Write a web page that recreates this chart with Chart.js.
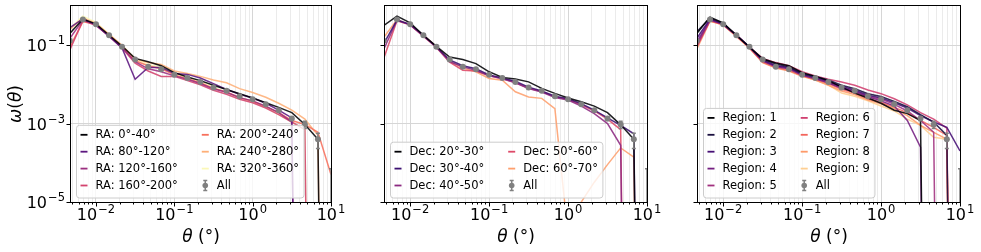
<!DOCTYPE html>
<html>
<head>
<meta charset="utf-8">
<script src="https://cdn.jsdelivr.net/npm/chart.js@4.4.0/dist/chart.umd.min.js"></script>
<style>
html, body { margin: 0; padding: 0; background: #fff; }
#wrap { position: relative; width: 981px; height: 252px; }
#wrap canvas { position: absolute; left: 0; top: 0; }
</style>
</head>
<body>
<div id="wrap">
  <canvas id="c1" width="981" height="252"></canvas>
  <canvas id="c2" width="981" height="252"></canvas>
  <canvas id="c3" width="981" height="252"></canvas>
</div>
<script>
// angular bins (degrees), 6 per decade
const thetaDeg = [0.00464, 0.00681, 0.01, 0.0147, 0.0215, 0.0316, 0.0464, 0.0681, 0.1, 0.147, 0.215,
                  0.316, 0.464, 0.681, 1.0, 1.47, 2.15, 3.16, 4.64, 6.81, 10.0];

// full sample, with error bars (0 = non-positive value)
const allW   = [0.13, 0.45, 0.34, 0.18, 0.091, 0.043, 0.028, 0.0245, 0.0175, 0.0145, 0.0115,
                0.0083, 0.0069, 0.005, 0.0042, 0.0031, 0.0022, 0.00135, 0.00095, 0.0004, 0];
const allErr = [0.004, 0.01, 0.006, 0.003, 0.0015, 0.0008, 0.0005, 0.0004, 0.0003, 0.0002, 0.00015,
                0.00012, 0.0001, 0.0001, 0.0001, 0.0001, 0.0001, 0.00015, 0.0002, 0.00017, 0.00007];

// panel 1: RA slices
const raLabels = ["RA: 0°-40°", "RA: 80°-120°", "RA: 120°-160°", "RA: 160°-200°",
                  "RA: 200°-240°", "RA: 240°-280°", "RA: 320°-360°"];
const ra0_40    = [0.2, 0.46, 0.35, 0.18, 0.095, 0.046, 0.038, 0.03, 0.02, 0.0155, 0.0125, 0.0095, 0.0074, 0.0058, 0.0045, 0.0034, 0.0026, 0.0019, 0.00095, 0.0004, 0];
const ra80_120  = [0.28, 0.47, 0.33, 0.17, 0.085, 0.0135, 0.027, 0.027, 0.019, 0.018, 0.0145, 0.0105, 0.0074, 0.0056, 0.0045, 0.0033, 0.0022, 0.0014, 0, 0, 0];
const ra120_160 = [0.15, 0.44, 0.33, 0.17, 0.088, 0.038, 0.025, 0.021, 0.0165, 0.0135, 0.0105, 0.0077, 0.0063, 0.0046, 0.0038, 0.0028, 0.0019, 0.0011, 0, 0, 0];
const ra160_200 = [0.075, 0.43, 0.32, 0.17, 0.085, 0.035, 0.022, 0.016, 0.016, 0.0125, 0.0098, 0.0071, 0.0056, 0.0042, 0.0034, 0.0025, 0.0017, 0.0011, 0.0007, 0, 0];
const ra200_240 = [0.09, 0.4, 0.33, 0.18, 0.09, 0.04, 0.03, 0.025, 0.0175, 0.014, 0.011, 0.0079, 0.0064, 0.0046, 0.0037, 0.0027, 0.0019, 0.0012, 0.00095, 0.0006, 0.00005];
const ra240_280 = [0.25, 0.5, 0.36, 0.19, 0.1, 0.045, 0.036, 0.032, 0.022, 0.019, 0.016, 0.013, 0.011, 0.0078, 0.0062, 0.0047, 0.0033, 0.0022, 0.0013, 0.0005, 0];
const ra320_360 = [0.27, 0.55, 0.38, 0.19, 0.095, 0.045, 0.032, 0.028, 0.019, 0.015, 0.012, 0.0085, 0.0062, 0.0045, 0.0035, 0.0026, 0.0017, 0.0011, 0.0007, 0, 0];

// panel 2: Dec slices
const decLabels = ["Dec: 20°-30°", "Dec: 30°-40°", "Dec: 40°-50°", "Dec: 50°-60°", "Dec: 60°-70°"];
const dec20_30 = [0.32, 0.55, 0.37, 0.18, 0.093, 0.05, 0.043, 0.034, 0.021, 0.0151, 0.0138, 0.0116, 0.0079, 0.0059, 0.0045, 0.0036, 0.0028, 0.0019, 0.00093, 0.0004, 0];
const dec30_40 = [0.11, 0.44, 0.34, 0.18, 0.09, 0.042, 0.03, 0.025, 0.0175, 0.0145, 0.012, 0.0085, 0.0068, 0.005, 0.0043, 0.0032, 0.0022, 0.0014, 0.0009, 0.00055, 0];
const dec40_50 = [0.08, 0.43, 0.33, 0.17, 0.09, 0.038, 0.028, 0.023, 0.0165, 0.014, 0.011, 0.0078, 0.0064, 0.0046, 0.004, 0.0028, 0.0018, 0.001, 0.00028, 0, 0];
const dec50_60 = [0.047, 0.42, 0.33, 0.17, 0.088, 0.037, 0.023, 0.022, 0.0168, 0.0142, 0.0112, 0.008, 0.0066, 0.0048, 0.0041, 0.003, 0.0021, 0.0013, 0.0007, 0, 0];
const dec60_70 = [0.16, 0.45, 0.33, 0.18, 0.092, 0.04, 0.026, 0.021, 0.0142, 0.0128, 0.0065, 0.0048, 0.0044, 0.0024, 0.0000015, 0.00001, 0.000032, 0.00009, 0.00024, 0.00014, 0];

// panel 3: sky regions
const regionLabels = ["Region: 1", "Region: 2", "Region: 3", "Region: 4", "Region: 5",
                      "Region: 6", "Region: 7", "Region: 8", "Region: 9"];
const reg1 = [0.2, 0.52, 0.37, 0.18, 0.09, 0.045, 0.035, 0.03, 0.02, 0.016, 0.0125, 0.0085, 0.006, 0.0045, 0.0033, 0.0022, 0.0018, 0.0012, 0, 0, 0];
const reg2 = [0.22, 0.5, 0.36, 0.18, 0.09, 0.044, 0.033, 0.028, 0.019, 0.016, 0.013, 0.0095, 0.0078, 0.0058, 0.0049, 0.0037, 0.0027, 0.0017, 0.0011, 0.0005, 0];
const reg3 = [0.15, 0.47, 0.35, 0.18, 0.09, 0.042, 0.03, 0.027, 0.018, 0.015, 0.012, 0.0088, 0.0072, 0.0053, 0.0045, 0.0034, 0.0025, 0.0016, 0.0011, 0.0008, 0.0002];
const reg4 = [0.12, 0.45, 0.34, 0.18, 0.09, 0.04, 0.028, 0.025, 0.017, 0.014, 0.011, 0.008, 0.0065, 0.0048, 0.0038, 0.0028, 0.0012, 0.00025, 0, 0, 0];
const reg5 = [0.1, 0.44, 0.34, 0.18, 0.09, 0.04, 0.03, 0.026, 0.018, 0.0145, 0.0115, 0.0082, 0.0068, 0.0049, 0.0042, 0.0031, 0.0021, 0.0012, 0.0006, 0, 0];
const reg6 = [0.09, 0.43, 0.34, 0.18, 0.09, 0.046, 0.036, 0.03, 0.021, 0.0165, 0.0135, 0.0115, 0.0095, 0.0072, 0.0058, 0.0043, 0.003, 0.0019, 0.0013, 0.00077, 0];
const reg7 = [0.1, 0.42, 0.33, 0.17, 0.085, 0.037, 0.027, 0.023, 0.0165, 0.0135, 0.0105, 0.0075, 0.006, 0.0043, 0.0035, 0.0026, 0.0019, 0.0012, 0.0008, 0.0005, 0];
const reg8 = [0.08, 0.41, 0.33, 0.17, 0.085, 0.036, 0.026, 0.022, 0.016, 0.013, 0.0095, 0.0068, 0.0055, 0.004, 0.0032, 0.0024, 0.0016, 0.0009, 0.0006, 0.0004, 0];
const reg9 = [0.09, 0.42, 0.33, 0.17, 0.085, 0.038, 0.028, 0.024, 0.0165, 0.013, 0.0098, 0.006, 0.005, 0.0038, 0.0028, 0.0021, 0.0013, 0.0009, 0.00045, 0.0004, 0];

// axes
const xMin = 0.0048, xMax = 10;
const yMin = 1e-5, yMax = 1;
const xLabelValues = [0.01, 0.1, 1, 10];
const xLabelExps = ["\u22122", "\u22121", "0", "1"];
const yTickValues = [1e-5, 1e-3, 1e-1];
const yLabelExps = ["\u22125", "\u22123", "\u22121"];

// magma samples
const magma1 = ["#000004", "#5c167f", "#9b2e7f", "#d3436e", "#f7705c", "#feaf77", "#fbf8b8"];
const magma2 = ["#000004", "#3b0f70", "#8c2981", "#de4968", "#fe9f6d"];
const magma3 = ["#000004", "#190f3e", "#460f75", "#741f81", "#a1307e", "#d03f70", "#f3655c", "#fe9a69", "#fecf92"];

const GREY = "#808080";
const FONT = '"DejaVu Sans"';
const LEGEND_FONT = "11.5px " + FONT;

const panels = [
    {id: "c1", left: 71, right: 331, showY: true, labels: raLabels, colors: magma1,
     values: [ra0_40, ra80_120, ra120_160, ra160_200, ra200_240, ra240_280, ra320_360]},
    {id: "c2", left: 385, right: 647, showY: false, labels: decLabels, colors: magma2,
     values: [dec20_30, dec30_40, dec40_50, dec50_60, dec60_70]},
    {id: "c3", left: 698, right: 960, showY: false, labels: regionLabels, colors: magma3,
     values: [reg1, reg2, reg3, reg4, reg5, reg6, reg7, reg8, reg9]}
];

// matplotlib clips non-positive values on a log axis, the line drops straight down
const clipLog = v => v > 0 ? v : 1e-30;
const isDecade = v => Math.abs(Math.log10(v) - Math.round(Math.log10(v))) < 1e-6;

const xTickValues = [];
for (let d = -3; d <= 1; d++) {
    for (let m = 1; m <= 9; m++) {
        const v = m * Math.pow(10, d);
        if (v >= xMin * 0.999 && v <= xMax * 1.001) xTickValues.push(v);
    }
}

function drawPow(ctx, x, y, exp, align) {
    ctx.font = "16px " + FONT;
    const bw = ctx.measureText("10").width;
    ctx.font = "11.5px " + FONT;
    const ew = ctx.measureText(exp).width;
    const total = bw + ew + 1;
    const x0 = align === "right" ? x - total : x - total / 2;
    ctx.textAlign = "left";
    ctx.textBaseline = "alphabetic";
    ctx.fillStyle = "#000";
    ctx.font = "16px " + FONT;
    ctx.fillText("10", x0, y);
    ctx.font = "11.5px " + FONT;
    ctx.fillText(exp, x0 + bw + 1, y - 7);
}

function drawErrSymbol(ctx, x, yTop, yBot, cap) {
    ctx.beginPath();
    ctx.moveTo(x, yTop); ctx.lineTo(x, yBot);
    ctx.moveTo(x - cap, yTop); ctx.lineTo(x + cap, yTop);
    ctx.moveTo(x - cap, yBot); ctx.lineTo(x + cap, yBot);
    ctx.stroke();
}

function makeDeco(panel) {
    return {
        id: "deco" + panel.id,
        afterDatasetsDraw(chart) {
            const ctx = chart.ctx, a = chart.chartArea;
            const xs = chart.scales.x, ys = chart.scales.y;
            ctx.save();
            ctx.beginPath();
            ctx.rect(a.left, a.top, a.right - a.left, a.bottom - a.top);
            ctx.clip();
            ctx.strokeStyle = GREY;
            ctx.lineWidth = 1.5;
            allW.forEach((v, i) => {
                const px = xs.getPixelForValue(thetaDeg[i]);
                const hi = v + allErr[i], lo = v - allErr[i];
                const yTop = ys.getPixelForValue(hi);
                if (lo > 0) {
                    drawErrSymbol(ctx, px, yTop, ys.getPixelForValue(lo), 2);
                } else {
                    ctx.beginPath();
                    ctx.moveTo(px, yTop); ctx.lineTo(px, a.bottom + 5);
                    ctx.moveTo(px - 2, yTop); ctx.lineTo(px + 2, yTop);
                    ctx.stroke();
                }
            });
            ctx.restore();
        },
        afterDraw(chart) {
            const ctx = chart.ctx, a = chart.chartArea;
            const xs = chart.scales.x, ys = chart.scales.y;
            ctx.save();

            // frame
            ctx.strokeStyle = "#000";
            ctx.lineWidth = 1;
            ctx.strokeRect(Math.round(a.left) - 0.5, Math.round(a.top) - 0.5,
                           Math.round(a.right - a.left) + 1, Math.round(a.bottom - a.top) + 1);

            // tick marks
            ctx.beginPath();
            xTickValues.forEach(v => {
                const px = Math.round(xs.getPixelForValue(v)) + 0.5;
                const len = isDecade(v) ? 4.5 : 2.5;
                ctx.moveTo(px, a.bottom);
                ctx.lineTo(px, a.bottom + len);
            });
            yTickValues.forEach(v => {
                const py = Math.round(ys.getPixelForValue(v)) + 0.5;
                ctx.moveTo(a.left, py);
                ctx.lineTo(a.left - 4.5, py);
            });
            ctx.stroke();

            // tick labels
            xLabelValues.forEach((v, i) => drawPow(ctx, xs.getPixelForValue(v), a.bottom + 18, xLabelExps[i], "center"));
            if (panel.showY) {
                yTickValues.forEach((v, i) => drawPow(ctx, a.left - 6, ys.getPixelForValue(v) + 6, yLabelExps[i], "right"));
            }

            // axis titles
            ctx.fillStyle = "#000";
            ctx.textBaseline = "alphabetic";
            ctx.textAlign = "left";
            const cx = (a.left + a.right) / 2;
            ctx.font = "italic 17px " + FONT;
            const tw = ctx.measureText("\u03b8").width;
            ctx.font = "17px " + FONT;
            const rw = ctx.measureText(" (\u00b0)").width;
            const tx = cx - (tw + rw) / 2;
            ctx.font = "italic 17px " + FONT;
            ctx.fillText("\u03b8", tx, 242);
            ctx.font = "17px " + FONT;
            ctx.fillText(" (\u00b0)", tx + tw, 242);

            if (panel.showY) {
                ctx.save();
                ctx.translate(21, (a.top + a.bottom) / 2);
                ctx.rotate(-Math.PI / 2);
                const parts = [["\u03c9", true], ["(", false], ["\u03b8", true], [")", false]];
                let total = 0;
                parts.forEach(p => {
                    ctx.font = (p[1] ? "italic " : "") + "17px " + FONT;
                    total += ctx.measureText(p[0]).width;
                });
                let px = -total / 2;
                parts.forEach(p => {
                    ctx.font = (p[1] ? "italic " : "") + "17px " + FONT;
                    ctx.fillText(p[0], px, 0);
                    px += ctx.measureText(p[0]).width;
                });
                ctx.restore();
            }

            // legend, two columns filled column-first
            const items = panel.labels.map((l, i) => ({label: l, color: panel.colors[i], err: false}))
                .concat([{label: "All", color: GREY, err: true}]);
            ctx.font = LEGEND_FONT;
            const nrows = Math.ceil(items.length / 2);
            const col1 = items.slice(0, nrows), col2 = items.slice(nrows);
            const w1 = Math.max(...col1.map(it => ctx.measureText(it.label).width));
            const w2 = Math.max(...col2.map(it => ctx.measureText(it.label).width));
            const pitch = 16.9;
            const bx = a.left + 5.5;
            const bb = a.bottom - 4;
            const lastCy = bb - 12.5;
            const firstCy = lastCy - (nrows - 1) * pitch;
            const bt = firstCy - 9.5;
            const col2x = bx + 19 + w1 + 20;
            const br = col2x + 19 + w2 + 5;

            ctx.beginPath();
            ctx.roundRect(bx, bt, br - bx, bb - bt, 3);
            ctx.fillStyle = "rgba(255,255,255,0.8)";
            ctx.fill();
            ctx.strokeStyle = "#cccccc";
            ctx.lineWidth = 1;
            ctx.stroke();

            items.forEach((it, i) => {
                const col = Math.floor(i / nrows), row = i % nrows;
                const x0 = col === 0 ? bx : col2x;
                const cy = firstCy + row * pitch;
                if (it.err) {
                    ctx.strokeStyle = GREY;
                    ctx.lineWidth = 1.5;
                    drawErrSymbol(ctx, x0 + 7.5, cy - 5, cy + 5, 2);
                    ctx.fillStyle = GREY;
                    ctx.beginPath();
                    ctx.arc(x0 + 7.5, cy, 2.8, 0, Math.PI * 2);
                    ctx.fill();
                } else {
                    ctx.strokeStyle = it.color;
                    ctx.lineWidth = 1.8;
                    ctx.beginPath();
                    ctx.moveTo(x0 + 4, cy);
                    ctx.lineTo(x0 + 11, cy);
                    ctx.stroke();
                }
                ctx.fillStyle = "#000";
                ctx.font = LEGEND_FONT;
                ctx.textAlign = "left";
                ctx.textBaseline = "middle";
                ctx.fillText(it.label, x0 + 19, cy + 0.5);
            });

            ctx.restore();
        }
    };
}

panels.forEach(panel => {
    const datasets = panel.values.map((vals, i) => ({
        label: panel.labels[i],
        data: thetaDeg.map((t, k) => ({x: t, y: clipLog(vals[k])})),
        borderColor: panel.colors[i] + "e0",
        backgroundColor: panel.colors[i],
        borderWidth: 1.5,
        pointRadius: 0,
        fill: false,
        tension: 0,
        order: 1
    }));
    datasets.push({
        label: "All",
        data: thetaDeg.map((t, k) => ({x: t, y: clipLog(allW[k])})),
        showLine: false,
        pointRadius: 3,
        pointBackgroundColor: GREY,
        pointBorderWidth: 0,
        order: 0
    });

    const yAxisWidth = panel.showY ? panel.left : 10;

    new Chart(document.getElementById(panel.id), {
        type: "line",
        data: {datasets},
        options: {
            responsive: false,
            animation: false,
            devicePixelRatio: 1,
            layout: {padding: {left: panel.left - yAxisWidth, right: 981 - panel.right, top: 6, bottom: 0}},
            plugins: {legend: {display: false}, tooltip: {enabled: false}},
            scales: {
                x: {
                    type: "logarithmic",
                    min: xMin,
                    max: xMax,
                    afterBuildTicks: s => { s.ticks = xTickValues.map(v => ({value: v})); },
                    afterFit: s => { s.height = 50; },
                    ticks: {display: false},
                    border: {display: false},
                    grid: {
                        drawTicks: false,
                        lineWidth: 1,
                        color: c => isDecade(c.tick.value) ? "#d6d6d6" : "#ebebeb"
                    }
                },
                y: {
                    type: "logarithmic",
                    min: yMin,
                    max: yMax,
                    afterBuildTicks: s => { s.ticks = yTickValues.map(v => ({value: v})); },
                    afterFit: s => { s.width = yAxisWidth; },
                    ticks: {display: false},
                    border: {display: false},
                    grid: {drawTicks: false, lineWidth: 1, color: "#d6d6d6"}
                }
            }
        },
        plugins: [makeDeco(panel)]
    });
});
</script>
</body>
</html>
